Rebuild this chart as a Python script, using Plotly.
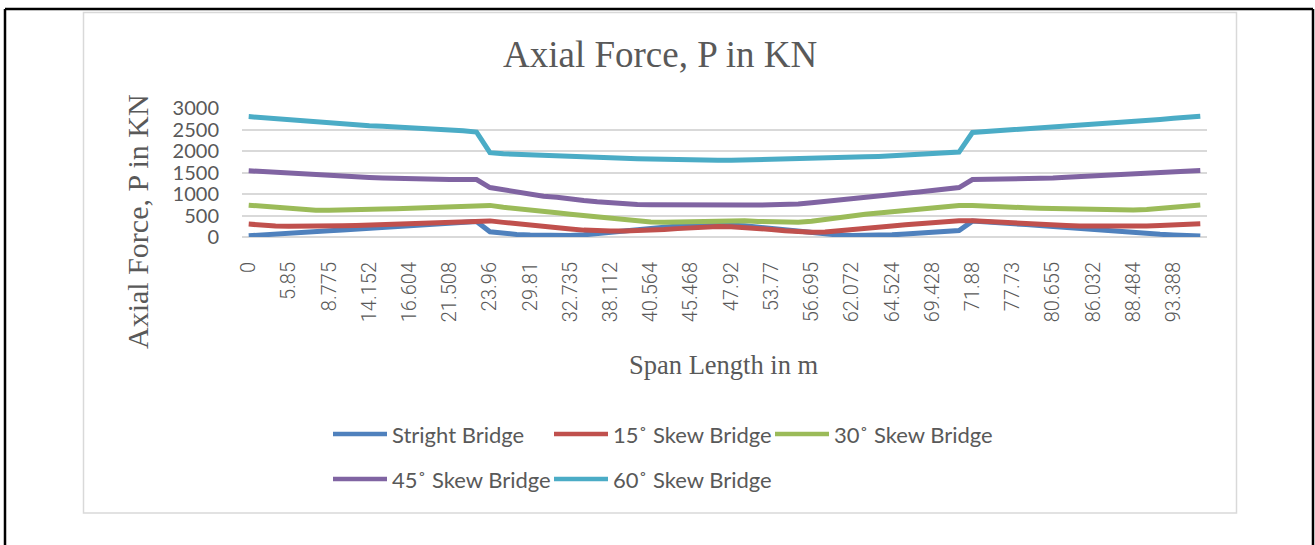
import plotly.graph_objects as go

# ---------------- data ----------------
x_tick_labels = ["0", "5.85", "8.775", "14.152", "16.604", "21.508", "23.96", "29.81",
                 "32.735", "38.112", "40.564", "45.468", "47.92", "53.77", "56.695",
                 "62.072", "64.524", "69.428", "71.88", "77.73", "80.655", "86.032",
                 "88.484", "93.388"]

series_names = ["Stright Bridge", "15˚ Skew Bridge", "30˚ Skew Bridge",
                "45˚ Skew Bridge", "60˚ Skew Bridge"]

stright_bridge = [30, 45, 65, 85, 105, 125, 145, 165, 185, 205, 225, 245, 262, 280, 300, 320, 340, 362,
                  120, 85, 60, 45, 38, 32, 35, 50, 80, 110, 145, 180, 210, 235, 255, 270, 278, 280,
                  275, 260, 230, 195, 160, 125, 90, 65, 45, 32, 30, 38, 50, 70, 90, 110, 130, 150,
                  370, 355, 335, 315, 290, 265, 240, 215, 195, 170, 145, 120, 100, 80, 62, 48, 35, 22]

skew15_bridge = [300, 270, 255, 250, 248, 250, 255, 262, 270, 280, 290, 300, 315, 330, 345, 355, 368, 380,
                 375, 340, 305, 275, 250, 215, 185, 160, 142, 138, 140, 145, 155, 175, 195, 215, 235, 245,
                 240, 228, 205, 175, 145, 122, 110, 118, 140, 165, 195, 225, 255, 285, 315, 340, 360, 378,
                 380, 360, 345, 330, 310, 295, 280, 268, 258, 252, 248, 248, 250, 255, 265, 278, 292, 308]

skew30_bridge = [740, 715, 695, 670, 640, 625, 625, 625, 630, 640, 650, 655, 665, 680, 690, 700, 715, 725,
                 735, 690, 665, 635, 600, 565, 530, 500, 460, 420, 390, 365, 350, 342, 348, 360, 378, 392,
                 392, 380, 362, 350, 342, 342, 365, 410, 455, 490, 530, 560, 590, 620, 650, 680, 710, 735,
                 735, 715, 700, 690, 680, 670, 662, 658, 650, 640, 630, 628, 630, 640, 660, 690, 720, 745]

skew45_bridge = [1540, 1520, 1500, 1485, 1465, 1450, 1430, 1415, 1400, 1385, 1372, 1360, 1350, 1342, 1338, 1335, 1335, 1335,
                 1150, 1095, 1060, 1010, 950, 925, 880, 850, 820, 790, 770, 758, 750, 745, 742, 742, 742, 742,
                 742, 742, 742, 745, 752, 770, 795, 830, 865, 895, 925, 950, 985, 1015, 1045, 1075, 1105, 1150,
                 1335, 1338, 1342, 1350, 1358, 1366, 1375, 1390, 1405, 1418, 1430, 1445, 1460, 1475, 1490, 1505, 1525, 1545]

skew60_bridge = [2800, 2775, 2750, 2720, 2700, 2690, 2670, 2645, 2620, 2590, 2575, 2560, 2545, 2530, 2510, 2490, 2470, 2440,
                 1960, 1935, 1920, 1910, 1900, 1890, 1880, 1865, 1855, 1845, 1830, 1820, 1810, 1800, 1795, 1790, 1785, 1785,
                 1785, 1790, 1795, 1800, 1808, 1815, 1825, 1835, 1845, 1855, 1865, 1875, 1890, 1900, 1915, 1930, 1950, 1975,
                 2430, 2450, 2470, 2490, 2510, 2530, 2555, 2580, 2610, 2630, 2650, 2670, 2690, 2710, 2735, 2760, 2785, 2810]

y_tick_values = [0, 500, 1000, 1500, 2000, 2500, 3000]

# ---------------- style ----------------
colors = ["#4F81BD", "#C0504D", "#9BBB59", "#8064A2", "#4BACC6"]
TXT = "#595959"
GRID = "#D9D9D9"

W, H = 1315, 545
PL, PR, PT, PB = 242, 1207, 108, 237   # plot area in pixels


def px(x):
    """pixel x -> paper coordinate"""
    return (x - PL) / (PR - PL)


def py(y):
    """pixel y -> paper coordinate"""
    return (PB - y) / (PB - PT)


all_series = [stright_bridge, skew15_bridge, skew30_bridge, skew45_bridge, skew60_bridge]
point_index = list(range(len(stright_bridge)))
tick_positions = point_index[::3]

fig = go.Figure()
for name, vals, col in zip(series_names, all_series, colors):
    fig.add_trace(go.Scatter(x=point_index, y=vals, mode="lines", name=name,
                             line=dict(color=col, width=5), showlegend=False))

shapes = []
annotations = []

# outer page border (black) and chart border (light gray)
for x0, y0, x1, y1 in [(5, 9, 5, 560), (5, 9, 1313, 9), (1313, 9, 1313, 560)]:
    shapes.append(dict(type="line", xref="paper", yref="paper",
                       x0=px(x0), y0=py(y0), x1=px(x1), y1=py(y1),
                       line=dict(color="black", width=2.5)))
shapes.append(dict(type="rect", xref="paper", yref="paper",
                   x0=px(83.5), y0=py(12.5), x1=px(1236.5), y1=py(513),
                   line=dict(color=GRID, width=1.5), fillcolor="rgba(0,0,0,0)", layer="below"))

# manual legend (two rows, three columns)
col_w, row_h = 221, 45
for i, (name, col) in enumerate(zip(series_names, colors)):
    c, r = i % 3, i // 3
    lx = 333 + c * col_w
    ly = 434 + r * row_h
    shapes.append(dict(type="line", xref="paper", yref="paper",
                       x0=px(lx), y0=py(ly), x1=px(lx + 54), y1=py(ly),
                       line=dict(color=col, width=4.5)))
    annotations.append(dict(text=name, xref="paper", yref="paper",
                            x=px(lx + 57), y=py(ly), xanchor="left", yanchor="middle",
                            showarrow=False, font=dict(family="Lato", size=22, color=TXT)))

# titles
annotations.append(dict(text="Axial Force, P in KN", xref="paper", yref="paper",
                        x=px(660), y=py(55), xanchor="center", yanchor="middle", showarrow=False,
                        font=dict(family="Liberation Serif", size=37, color=TXT)))
annotations.append(dict(text="Axial Force, P in KN", xref="paper", yref="paper",
                        x=px(137), y=py(222), xanchor="center", yanchor="middle", showarrow=False,
                        textangle=-90,
                        font=dict(family="Liberation Serif", size=30, color=TXT)))
annotations.append(dict(text="Span Length in m", xref="paper", yref="paper",
                        x=px(724), y=py(365), xanchor="center", yanchor="middle", showarrow=False,
                        font=dict(family="Liberation Serif", size=26.5, color=TXT)))

fig.update_layout(
    template="none",
    width=W, height=H,
    margin=dict(l=PL, r=W - PR, t=PT, b=H - PB, pad=0, autoexpand=False),
    paper_bgcolor="white", plot_bgcolor="white",
    font=dict(family="Lato", color=TXT),
    showlegend=False,
    shapes=shapes,
    annotations=annotations,
    xaxis=dict(range=[-0.5, len(point_index) - 0.5], showgrid=False, zeroline=False,
               showline=False, ticks="", tickmode="array", tickvals=tick_positions,
               ticktext=x_tick_labels, tickangle=-90, ticklabelstandoff=20,
               tickfont=dict(family="Roboto", size=20, color=TXT, weight=300)),
    yaxis=dict(range=[0, 3000], tickmode="array", tickvals=y_tick_values,
               showgrid=True, gridcolor=GRID, gridwidth=1.5,
               zeroline=True, zerolinecolor=GRID, zerolinewidth=1.5,
               showline=False, ticks="", ticklabelstandoff=22,
               tickfont=dict(family="Lato", size=20, color=TXT)),
)

# remove the default page margin so the 1315x545 figure fills the window exactly
fig.write_html("out.html",
               config={"displayModeBar": False},
               post_script="document.body.style.margin='0px';document.body.style.overflow='hidden';")
